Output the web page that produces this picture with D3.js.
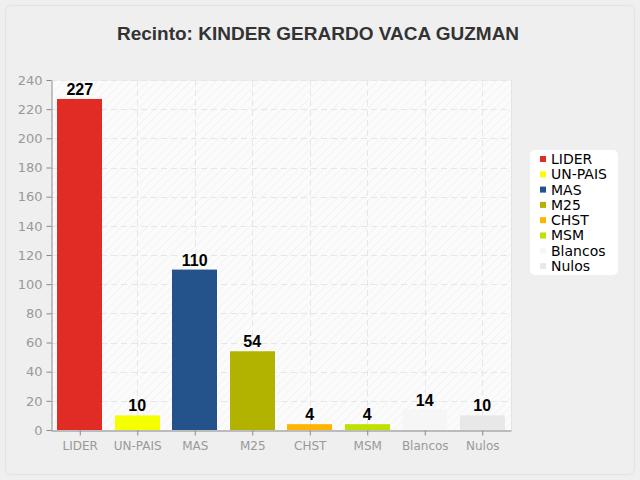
<!DOCTYPE html>
<html><head><meta charset="utf-8">
<script src="https://cdn.jsdelivr.net/npm/d3@7"></script>
<style>body{margin:0;background:#efefef;}svg{display:block;font-family:"Liberation Sans",Arial,sans-serif;}</style>
</head><body>
<script>
const categories = ["LIDER","UN-PAIS","MAS","M25","CHST","MSM","Blancos","Nulos"];
const votes = [227,10,110,54,4,4,14,10];
const colors = ["#e02c24","#f5ff00","#24528a","#b2b200","#ffb400","#c0e000","#f6f6f6","#e8e8e8"];
const yTicks = [0,20,40,60,80,100,120,140,160,180,200,220,240];
const title = "Recinto: KINDER GERARDO VACA GUZMAN";

const W=640,H=480;
const svg=d3.select("body").append("svg").attr("width",W).attr("height",H);
svg.append("rect").attr("x",5.5).attr("y",5.5).attr("width",629).attr("height",469).attr("rx",6)
  .attr("fill","#efefef").attr("stroke","#e2e2e2");
svg.append("text").attr("x",318).attr("y",40).attr("text-anchor","middle")
  .attr("font-size",19).attr("font-weight","bold").attr("fill","#333").text(title);

const defs=svg.append("defs");
const pat=defs.append("pattern").attr("id","hatch").attr("patternUnits","userSpaceOnUse")
  .attr("width",6).attr("height",6).attr("patternTransform","rotate(45)");
pat.append("rect").attr("width",6).attr("height",6).attr("fill","#fbfbfb");
pat.append("line").attr("x1",0).attr("y1",0).attr("x2",0).attr("y2",6).attr("stroke","#ececec").attr("stroke-width",1);

const L=51,R=511,T=80,B=430;
const x=d3.scaleBand().domain(categories).range([L,R]).paddingInner(0.22).paddingOuter(0.11);
const xc=d3.scalePoint().domain(categories).range([L,R]).padding(0.5);
const y=d3.scaleLinear().domain([0,240]).range([B,T]);

svg.append("rect").attr("x",L).attr("y",T).attr("width",R-L).attr("height",B-T).attr("fill","url(#hatch)");
svg.append("line").attr("x1",R+0.5).attr("x2",R+0.5).attr("y1",T).attr("y2",B).attr("stroke","#e4e4e4");
svg.append("line").attr("x1",L).attr("x2",R).attr("y1",T+0.5).attr("y2",T+0.5).attr("stroke","#f0f0f0");
// grid
svg.append("g").selectAll("line").data(yTicks.slice(1)).join("line")
  .attr("x1",L).attr("x2",R).attr("y1",d=>Math.round(y(d))+0.5).attr("y2",d=>Math.round(y(d))+0.5)
  .attr("stroke","#e6e6e6").attr("stroke-dasharray","6,4");
svg.append("g").selectAll("line").data(categories).join("line")
  .attr("x1",d=>Math.round(xc(d))+0.5).attr("x2",d=>Math.round(xc(d))+0.5).attr("y1",T).attr("y2",B)
  .attr("stroke","#e6e6e6").attr("stroke-dasharray","6,4");

// bars
svg.append("g").selectAll("rect").data(categories).join("rect")
  .attr("x",d=>Math.round(x(d))).attr("width",Math.round(x.bandwidth()))
  .attr("y",(d,i)=>y(votes[i])).attr("height",(d,i)=>B-y(votes[i]))
  .attr("fill",(d,i)=>colors[i]);
svg.append("g").selectAll("text").data(categories).join("text")
  .attr("x",d=>xc(d)).attr("y",(d,i)=>y(votes[i])-4).attr("text-anchor","middle")
  .attr("font-size",16).attr("font-weight","bold").attr("fill","#000").text((d,i)=>votes[i]);

// axes
const ya=svg.append("g").attr("transform",`translate(${L+0.5},0)`)
  .call(d3.axisLeft(y).tickValues(yTicks).tickSize(5).tickSizeOuter(0));
ya.select(".domain").attr("stroke","#888");
ya.selectAll(".tick line").attr("stroke","#888");
ya.selectAll("text").attr("fill","#999").attr("font-size",13).attr("font-family","DejaVu Sans,sans-serif").attr("x",-9);
const xa=svg.append("g").attr("transform",`translate(0,${B+0.5})`)
  .call(d3.axisBottom(xc).tickSize(5).tickSizeOuter(0));
xa.select(".domain").attr("stroke","#888");
xa.selectAll(".tick line").attr("stroke","#888");
xa.selectAll("text").attr("fill","#999").attr("font-size",12).attr("font-family","DejaVu Sans,sans-serif").attr("dy","0.95em");

// legend
const lg=svg.append("g");
lg.append("rect").attr("x",530).attr("y",150).attr("width",88).attr("height",125).attr("rx",5).attr("fill","#fff");
const li=lg.selectAll("g").data(categories).join("g").attr("transform",(d,i)=>`translate(540,${159+i*15.3})`);
li.append("rect").attr("x",0).attr("y",-3).attr("width",6).attr("height",6).attr("fill",(d,i)=>colors[i]);
li.append("text").attr("x",11).attr("y",0).attr("dy","0.35em").attr("font-size",14).attr("font-family","DejaVu Sans,sans-serif")
  .attr("fill","#000").text(d=>d);
</script>
</body></html>
